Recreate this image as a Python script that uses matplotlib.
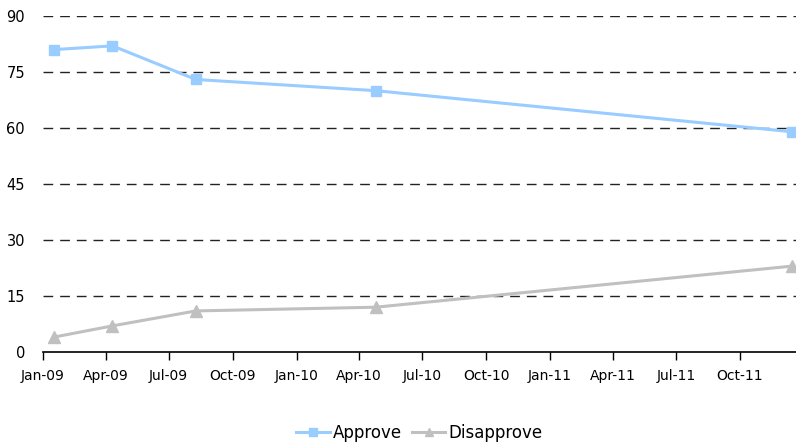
import datetime as dt
import matplotlib
matplotlib.use("Agg")
import matplotlib.pyplot as plt
import matplotlib.dates as mdates

# survey dates and values
dates = [dt.date(2009, 1, 17), dt.date(2009, 4, 11), dt.date(2009, 8, 9),
         dt.date(2010, 4, 25), dt.date(2011, 12, 15)]
approve = [81, 82, 73, 70, 59]
disapprove = [4, 7, 11, 12, 23]
yticks = [0, 15, 30, 45, 60, 75, 90]

plt.rcParams['font.family'] = ['DejaVu Sans']

fig = plt.figure(figsize=(7.96, 4.44), dpi=100)
ax = fig.add_axes([43 / 796, 1 - 352 / 444, 1 - 43 / 796, 336 / 444])

ax.plot(dates, approve, color="#99ccff", lw=2.2, marker="s", ms=7,
        label="Approve", clip_on=False, zorder=3)
ax.plot(dates, disapprove, color="#c0c0c0", lw=2.2, marker="^", ms=8,
        label="Disapprove", clip_on=False, zorder=3)

ax.set_ylim(0, 90)
ax.set_yticks(yticks)
ax.set_xlim(dt.date(2009, 1, 1), dt.date(2011, 12, 21))
ax.xaxis.set_major_locator(mdates.MonthLocator(bymonth=[1, 4, 7, 10]))
ax.xaxis.set_major_formatter(mdates.DateFormatter("%b-%y"))

for y in yticks[1:]:
    ax.axhline(y, color="#222222", lw=1, ls=(0, (7, 5)), zorder=1)

for s in ["left", "right", "top"]:
    ax.spines[s].set_visible(False)
ax.spines["bottom"].set_linewidth(1.2)
ax.tick_params(axis="y", length=0, labelsize=10.5, pad=13)
ax.tick_params(axis="x", length=6, width=1, direction="out", labelsize=10, pad=6)

ax.legend(loc="upper center", bbox_to_anchor=(0.5, -0.17), ncol=2,
          frameon=False, fontsize=12, handlelength=2.0, handletextpad=0.2,
          columnspacing=0.6, markerscale=0.8)

fig.savefig("out.png", dpi=100)
